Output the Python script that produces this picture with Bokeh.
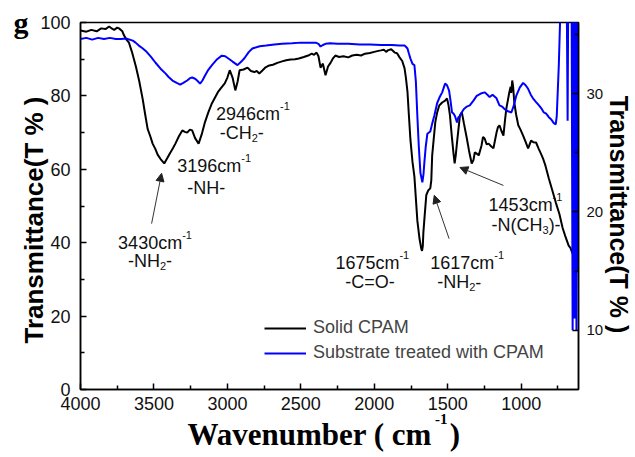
import math
from bokeh.plotting import figure
from bokeh.models import (Range1d, LinearAxis, FixedTicker, Label, Arrow,
                          NormalHead, Legend, LegendItem)
from bokeh.embed import file_html
from bokeh.resources import INLINE

# ---------------- data ----------------
wn_solid = [4000, 3960, 3926, 3890, 3859, 3830, 3805, 3785, 3771, 3750, 3738, 3715,
            3704, 3690, 3670, 3650, 3623, 3600, 3576, 3560, 3543, 3525, 3509, 3490,
            3475, 3455, 3430, 3410, 3388, 3370, 3354, 3330, 3307, 3290, 3274, 3255,
            3240, 3220, 3196, 3175, 3153, 3130, 3105, 3085, 3065, 3040, 3018, 3000,
            2984, 2965, 2946, 2930, 2917, 2890, 2863, 2840, 2816, 2800, 2783, 2760,
            2740, 2715, 2690, 2660, 2628, 2600, 2570, 2540, 2514, 2480, 2450, 2426,
            2410, 2393, 2380, 2366, 2350, 2340, 2332, 2315, 2298, 2280, 2265, 2240,
            2210, 2177, 2150, 2120, 2090, 2063, 2030, 2000, 1980, 1955, 1935, 1920,
            1908, 1885, 1861, 1845, 1828, 1810, 1794, 1785, 1774, 1765, 1754, 1740,
            1727, 1717, 1707, 1692, 1680, 1675, 1670, 1666, 1656, 1646, 1632, 1619,
            1612, 1606, 1595, 1585, 1572, 1558, 1538, 1518, 1505, 1495, 1485, 1478,
            1471, 1460, 1453, 1445, 1437, 1427, 1417, 1404, 1390, 1370, 1355, 1337,
            1325, 1316, 1300, 1289, 1270, 1260, 1249, 1235, 1222, 1205, 1189, 1178,
            1168, 1158, 1148, 1135, 1121, 1110, 1101, 1090, 1081, 1072, 1068, 1061,
            1055, 1047, 1035, 1020, 1005, 987, 970, 953, 945, 933, 918, 899,
            880, 865, 852, 835, 812, 790, 765, 740, 718, 700, 677, 665,
            650, 640, 630, 620, 610]
t_solid = [97.8, 97.5, 98.0, 97.6, 98.4, 98.2, 98.9, 98.3, 98.0, 98.6, 98.4, 97.6,
           96.5, 95.5, 94.5, 92.0, 88.0, 84.0, 79.0, 75.0, 71.0, 69.0, 67.0, 65.5,
           64.0, 62.8, 61.6, 63.0, 64.6, 65.8, 67.0, 69.0, 70.6, 70.2, 70.0, 70.8,
           70.6, 68.5, 67.0, 69.5, 72.8, 75.5, 78.0, 79.5, 81.0, 82.3, 83.4, 85.0,
           87.0, 85.0, 81.5, 84.0, 87.0, 87.2, 87.7, 86.8, 86.5, 86.8, 86.1, 87.0,
           87.8, 88.3, 88.5, 89.0, 89.4, 89.7, 89.9, 90.0, 90.2, 90.6, 91.0, 91.5,
           91.2, 91.8, 90.8, 87.7, 88.8, 87.0, 85.6, 88.0, 89.0, 90.3, 91.0, 90.6,
           90.8, 90.5, 91.0, 91.2, 91.0, 91.5, 91.7, 92.0, 92.2, 92.4, 92.6, 92.0,
           92.4, 92.7, 91.8, 91.6, 90.5, 89.5, 87.5, 85.0, 81.0, 75.0, 68.0, 62.0,
           58.0, 52.0, 46.0, 41.0, 38.3, 37.8, 39.0, 42.8, 48.0, 53.0, 54.3, 54.8,
           57.0, 63.8, 68.5, 72.8, 75.5, 77.4, 78.2, 78.7, 79.3, 77.5, 74.7, 71.5,
           68.4, 64.0, 61.6, 64.0, 67.3, 71.0, 74.7, 75.5, 72.5, 68.4, 65.0, 61.6,
           62.5, 64.6, 64.2, 63.8, 66.5, 68.8, 68.4, 66.8, 67.0, 66.3, 65.7, 68.0,
           70.0, 71.5, 72.0, 70.5, 69.2, 73.5, 76.6, 79.0, 81.0, 82.5, 80.8, 84.2,
           82.5, 78.2, 75.0, 72.0, 70.8, 69.2, 67.5, 65.7, 66.5, 67.8, 67.4, 67.3,
           65.5, 64.2, 63.0, 61.0, 57.5, 54.5, 51.0, 47.8, 44.0, 41.8, 39.2, 38.6,
           37.0, 38.6, 39.8, 37.5, 36.0]

wn_sub = [4000, 3960, 3920, 3880, 3840, 3800, 3760, 3724, 3690, 3644, 3625, 3603,
          3580, 3556, 3520, 3489, 3455, 3422, 3400, 3374, 3345, 3321, 3300, 3274,
          3255, 3240, 3220, 3206, 3186, 3170, 3153, 3130, 3105, 3070, 3038, 3015,
          2998, 2965, 2931, 2905, 2883, 2855, 2830, 2780, 2736, 2680, 2628, 2560,
          2500, 2450, 2399, 2380, 2366, 2350, 2332, 2300, 2250, 2177, 2100, 2030,
          1955, 1880, 1830, 1794, 1785, 1774, 1765, 1754, 1740, 1727, 1717, 1707,
          1697, 1686, 1673, 1665, 1659, 1650, 1639, 1619, 1605, 1592, 1572, 1555,
          1538, 1518, 1505, 1491, 1480, 1471, 1460, 1451, 1437, 1428, 1417, 1400,
          1390, 1370, 1350, 1325, 1303, 1275, 1249, 1230, 1215, 1195, 1168, 1158,
          1148, 1130, 1115, 1090, 1067, 1050, 1034, 1010, 987, 970, 953, 935,
          920, 900, 879, 860, 846, 830, 812, 795, 778, 765, 758, 744,
          731, 698, 690, 684, 680, 657, 650, 644, 637, 630, 624, 617, 610]
t_sub = [34.6, 34.7, 34.55, 34.7, 34.6, 34.7, 34.6, 34.6, 34.65, 34.47, 34.3, 34.05,
         33.85, 33.6, 33.1, 32.6, 32.1, 31.7, 31.4, 31.1, 30.9, 30.76, 30.9, 31.1,
         31.3, 31.35, 31.25, 31.1, 30.84, 31.1, 31.5, 32.0, 32.4, 32.9, 33.2, 33.15,
         33.0, 32.7, 32.4, 32.7, 33.0, 33.5, 33.8, 34.0, 34.05, 34.15, 34.2, 34.25,
         34.3, 34.28, 34.3, 34.2, 33.97, 34.1, 34.2, 34.25, 34.2, 34.2, 34.15, 34.15,
         34.1, 34.1, 34.05, 34.05, 33.95, 33.8, 33.4, 32.95, 32.5, 32.4, 31.0, 28.1,
         25.5, 23.3, 22.5, 23.2, 24.2, 25.5, 26.6, 26.8, 27.5, 28.1, 29.2, 29.7,
         30.1, 30.84, 30.7, 30.25, 29.3, 28.4, 28.3, 28.1, 27.55, 28.0, 28.1, 28.5,
         28.7, 28.9, 29.0, 29.4, 29.8, 30.0, 30.1, 29.9, 29.7, 29.9, 29.6, 29.3,
         29.0, 28.9, 28.7, 28.5, 28.4, 29.0, 29.8, 30.5, 30.9, 30.7, 30.4, 29.9,
         29.6, 29.3, 29.0, 28.7, 28.4, 28.3, 28.0, 27.8, 27.5, 27.4, 28.1, 32.4,
         38.0, 38.0, 38.0, 27.7, 38.0, 38.0, 10.0, 38.0, 11.0, 38.0, 10.0, 38.0, 15.0]

x_ticks = [4000, 3500, 3000, 2500, 2000, 1500, 1000]
x_minor = [3750, 3250, 2750, 2250, 1750, 1250, 750]
y_ticks = [0, 20, 40, 60, 80, 100]
y_minor = [10, 30, 50, 70, 90]
y2_ticks = [10, 20, 30]
y2_minor = [15, 25, 35]

series_names = ["Solid CPAM", "Substrate treated with CPAM"]
y_title = "Transmittance(T % )"
x_title_main, x_title_sup, x_title_end = "Wavenumber ( cm", "-1", ")"
panel_letter = "g"

# ---------------- figure ----------------
SANS = "Liberation Sans"
SERIF = "Liberation Serif"

p = figure(width=635, height=457, output_backend="svg", toolbar_location=None,
           x_range=Range1d(4000, 610), y_range=Range1d(0, 100),
           min_border_left=79, min_border_right=52, min_border_top=22,
           min_border_bottom=68)
# "r": right-hand transmittance scale; "px": helper scales (pixels) used to place titles
p.extra_y_ranges = {"r": Range1d(5, 36), "px": Range1d(0, 367)}
p.extra_x_ranges = {"px": Range1d(0, 504)}
p.grid.visible = False
p.outline_line_color = "black"
p.outline_line_width = 1.5
p.background_fill_color = "white"
p.border_fill_color = "white"


def style_axis(ax, size="18px"):
    ax.axis_line_width = 1.5
    ax.axis_line_color = "black"
    ax.major_tick_in = 6
    ax.major_tick_out = 0
    ax.minor_tick_in = 4
    ax.minor_tick_out = 0
    ax.major_tick_line_width = 1.5
    ax.minor_tick_line_width = 1.5
    ax.major_tick_line_color = "black"
    ax.minor_tick_line_color = "black"
    ax.major_label_text_font = SANS
    ax.major_label_text_font_size = size
    ax.major_label_text_color = "#111111"


p.xaxis[0].ticker = FixedTicker(ticks=x_ticks, minor_ticks=x_minor)
p.yaxis[0].ticker = FixedTicker(ticks=y_ticks, minor_ticks=y_minor)
style_axis(p.xaxis[0])
style_axis(p.yaxis[0])
p.xaxis[0].major_label_standoff = 7
p.yaxis[0].major_label_standoff = 10

ax_r = LinearAxis(y_range_name="r", ticker=FixedTicker(ticks=y2_ticks, minor_ticks=y2_minor))
style_axis(ax_r, "15px")
ax_r.major_label_standoff = 8
p.add_layout(ax_r, "right")


def text_axis(ticks, labels, font, size, orientation, standoff, vertical=True,
              range_name="px", bold=True):
    kw = {"y_range_name": range_name} if vertical else {"x_range_name": range_name}
    ax = LinearAxis(ticker=FixedTicker(ticks=ticks, minor_ticks=[]),
                    major_label_overrides=dict(zip(ticks, labels)), **kw)
    ax.axis_line_color = None
    ax.major_tick_line_color = None
    ax.minor_tick_line_color = None
    ax.major_tick_in = 0
    ax.major_tick_out = 0
    ax.minor_tick_in = 0
    ax.minor_tick_out = 0
    ax.major_label_text_font = font
    ax.major_label_text_font_style = "bold" if bold else "normal"
    ax.major_label_text_font_size = f"{size}px"
    ax.major_label_text_color = "black"
    ax.major_label_orientation = orientation
    ax.major_label_standoff = int(standoff)
    return ax


# left side: title, then panel letter
p.add_layout(text_axis([293], [y_title], SANS, 26, math.pi / 2, 4), "left")
p.add_layout(text_axis([100], [panel_letter], SERIF, 30, "horizontal", -28,
                       range_name="default"), "left")
# right side: title outside the tick labels
p.add_layout(text_axis([175], [y_title], SANS, 25, "parallel", -2), "right")
# below: x title with superscript
p.add_layout(text_axis([232, 379], [x_title_main, x_title_end], SERIF, 31, "horizontal",
                       4, vertical=False), "below")
p.add_layout(text_axis([365], [x_title_sup], SERIF, 15, "horizontal", -41,
                       vertical=False), "below")

r1 = p.line(wn_solid, t_solid, line_color="black", line_width=2)
r2 = p.line(wn_sub, t_sub, line_color="#0000ff", line_width=2, y_range_name="r")

legend = Legend(items=[LegendItem(label=series_names[0], renderers=[r1]),
                       LegendItem(label=series_names[1], renderers=[r2])],
                location=(184, 26), padding=0, margin=0, spacing=4,
                glyph_width=42, glyph_height=20, label_height=20, label_standoff=7,
                label_text_font=SANS, label_text_font_size="18px",
                border_line_color=None, background_fill_alpha=0)
p.add_layout(legend, "center")

# ---------------- annotations ----------------
W_SANS = {'0': .556, '1': .556, '2': .556, '3': .556, '4': .556, '5': .556, '6': .556,
          '7': .556, '8': .556, '9': .556, 'c': .5, 'm': .833, '-': .333, 'N': .722,
          'H': .722, 'C': .722, 'O': .778, '=': .584, '(': .333, ')': .333}


def tw(s, size):
    return sum(W_SANS.get(ch, .556) for ch in s) * size


def rich(x, y, parts, size=18, small=11, sup=8, sub=-5):
    dx = 0.0
    for text, kind in parts:
        fs = size if kind == "n" else small
        dy = {"n": 0, "sup": sup, "sub": sub}[kind]
        p.add_layout(Label(x=x, y=y, x_offset=dx, y_offset=dy, text=text,
                           text_font=SANS, text_font_size=f"{fs}px",
                           text_color="#111111",
                           text_baseline="alphabetic", text_align="left"))
        dx += tw(text, fs)


rich(3744, 39.8, [("3430cm", "n"), ("-1", "sup")])
rich(3677, 35.1, [("-NH", "n"), ("2", "sub"), ("-", "n")])
rich(3341, 61.0, [("3196cm", "n"), ("-1", "sup")])
rich(3274, 54.8, [("-NH-", "n")])
rich(3078, 75.2, [("2946cm", "n"), ("-1", "sup")])
rich(3052, 70.0, [("-CH", "n"), ("2", "sub"), ("-", "n")])
rich(2265, 34.6, [("1675cm", "n"), ("-1", "sup")])
rich(2197, 29.2, [("-C=O-", "n")])
rich(1619, 34.6, [("1617cm", "n"), ("-1", "sup")])
rich(1572, 29.2, [("-NH", "n"), ("2", "sub"), ("-", "n")])
rich(1222, 50.4, [("1453cm", "n"), ("-1", "sup")])
rich(1202, 44.7, [("-N(CH", "n"), ("3", "sub"), (")-", "n")])

for xs, ys, xe, ye in [(3516, 45.2, 3448, 58.9),
                       (1491, 41.1, 1592, 52.9),
                       (1121, 55.6, 1417, 60.5)]:
    p.add_layout(Arrow(end=NormalHead(size=8, fill_color="#222222", line_color="#222222",
                                      line_width=1),
                       x_start=xs, y_start=ys, x_end=xe, y_end=ye,
                       line_color="#333333", line_width=1))

open("out.html", "w").write(file_html(p, INLINE))
